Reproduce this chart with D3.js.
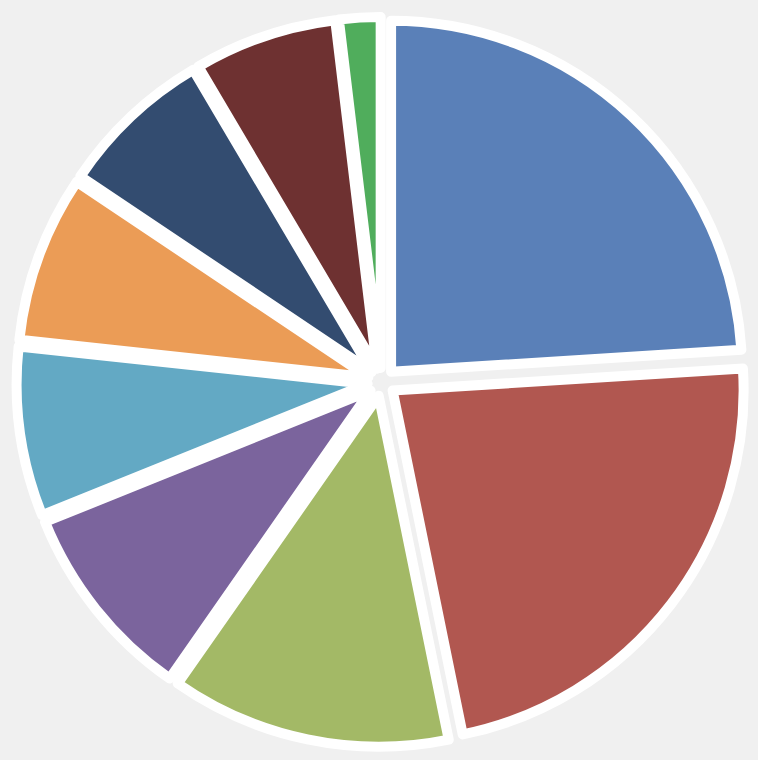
<!DOCTYPE html>
<html>
<head>
<meta charset="utf-8">
<script src="https://cdn.jsdelivr.net/npm/d3@7"></script>
<style>
  html, body { margin: 0; padding: 0; background: #f0f0f0; }
  svg { display: block; }
</style>
</head>
<body>
<svg id="chart" width="758" height="760"></svg>
<script>
const categories = ["A", "B", "C", "D", "E", "F", "G", "H", "I"];
const values = [24.0, 22.8, 12.9, 9.2, 7.8, 7.7, 7.1, 6.6, 1.9];
const colors = ["#5a80b8", "#b15750", "#a3b966", "#7b649d", "#63a9c4",
                "#eb9c56", "#334c70", "#6e3131", "#50ad5c"];

const W = 758, H = 760;
const cx = 381.5, cy = 382;
const radius = 351;
const explode = 14;

const data = categories.map((c, i) => ({ cat: c, value: values[i], color: colors[i] }));

const pie = d3.pie().sort(null).value(d => d.value);
const arc = d3.arc().innerRadius(0).outerRadius(radius);

const svg = d3.select("#chart");
svg.append("rect").attr("width", W).attr("height", H).attr("fill", "#f0f0f0");

const g = svg.append("g").attr("transform", `translate(${cx},${cy})`);

g.selectAll("path")
  .data(pie(data))
  .join("path")
  .attr("d", arc)
  .attr("fill", d => d.data.color)
  .attr("stroke", "#ffffff")
  .attr("stroke-width", 10)
  .attr("stroke-linejoin", "round")
  .attr("transform", d => {
    const a = (d.startAngle + d.endAngle) / 2;
    return `translate(${explode * Math.sin(a)},${-explode * Math.cos(a)})`;
  });
</script>
</body>
</html>
